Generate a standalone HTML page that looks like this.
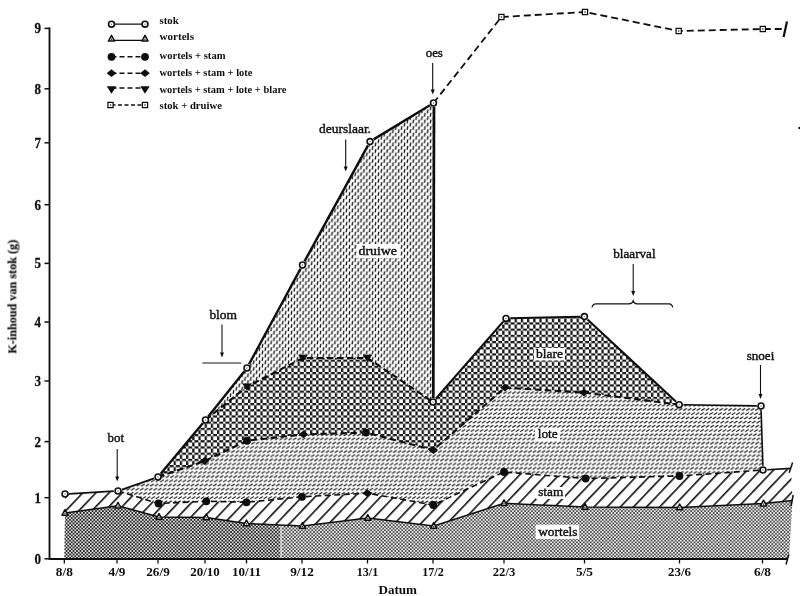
<!DOCTYPE html>
<html><head><meta charset="utf-8"><title>K-inhoud van stok</title>
<style>
html,body{margin:0;padding:0;background:#fff;}
body{width:800px;height:596px;overflow:hidden;font-family:"Liberation Serif",serif;}
svg{display:block;}
text{font-family:"Liberation Serif",serif;fill:#111;}
</style></head><body>
<svg width="800" height="596" viewBox="0 0 800 596">
<defs>
<pattern id="pw" width="3.46" height="3.46" patternUnits="userSpaceOnUse">
<rect width="3.46" height="3.46" fill="#dcdcdc"/><rect x="0" y="0" width="1.73" height="1.73" fill="#262626"/><rect x="1.73" y="1.73" width="1.73" height="1.73" fill="#262626"/>
</pattern>
<pattern id="pw2" width="3.46" height="3.46" patternUnits="userSpaceOnUse">
<rect width="3.46" height="3.46" fill="#ececec"/><rect x="0.05" y="0.05" width="1.63" height="1.63" fill="#3a3a3a"/><rect x="1.78" y="1.78" width="1.63" height="1.63" fill="#3a3a3a"/>
</pattern>
<pattern id="ps" width="9.5" height="9.5" patternUnits="userSpaceOnUse" patternTransform="rotate(43.6)">
<rect width="9.5" height="9.5" fill="#fff"/><rect x="0" y="0" width="1.6" height="9.5" fill="#111"/>
</pattern>
<pattern id="pl" width="4.5" height="16.8" patternUnits="userSpaceOnUse">
<rect width="4.5" height="16.8" fill="#fff"/>
<path d="M-4.05,3.10 L-0.45,1.10 M0.45,3.10 L4.05,1.10 M4.95,3.10 L8.55,1.10 M-5.17,7.30 L-1.57,5.30 M-0.68,7.30 L2.92,5.30 M3.83,7.30 L7.42,5.30 M-6.30,11.50 L-2.70,9.50 M-1.80,11.50 L1.80,9.50 M2.70,11.50 L6.30,9.50 M-2.92,15.70 L0.68,13.70 M1.57,15.70 L5.17,13.70 M6.08,15.70 L9.68,13.70" stroke="#161616" stroke-width="1.12" fill="none"/>
</pattern>
<pattern id="pb" width="6.2" height="6.2" patternUnits="userSpaceOnUse">
<rect width="6.2" height="6.2" fill="#fff"/>
<path d="M2.25,1.15 L6.25,1.15 M1.15,2.25 L1.15,6.25 M2.25,7.35 L6.25,7.35 M7.35,2.25 L7.35,6.25 M2.25,-5.05 L6.25,-5.05 M-5.05,2.25 L-5.05,6.25" stroke="#151515" stroke-width="2.3" fill="none"/>
</pattern>
<pattern id="pd" width="5.8" height="6.6" patternUnits="userSpaceOnUse">
<rect width="5.8" height="6.6" fill="#fff"/>
<path d="M1.2,4.5 L1.7,0.7 M4.1,7.8 L4.6,4.0 M4.1,1.2 L4.6,-2.6" stroke="#141414" stroke-width="1.4" fill="none"/>
</pattern>
<filter id="bl" x="0" y="0" width="800" height="596" filterUnits="userSpaceOnUse"><feGaussianBlur stdDeviation="0.3"/></filter>
<filter id="bl2" x="0" y="0" width="800" height="596" filterUnits="userSpaceOnUse"><feGaussianBlur stdDeviation="0.45"/></filter>
</defs>
<rect width="800" height="596" fill="#fff"/>

<g>
<polygon points="205.5,420.0 247.0,368.0 302.5,265.0 370.0,141.6 433.5,103.0 433.0,402.0 433.0,402.0 367.5,358.0 303.0,358.0 247.0,386.6 205.5,420.0" fill="url(#pd)"/>
<polygon points="158.0,477.0 205.5,420.0 247.0,386.6 303.0,358.0 367.5,358.0 433.0,402.0 506.0,318.4 584.4,316.6 679.2,404.7 679.2,404.7 584.0,392.6 505.0,387.6 433.3,450.0 366.0,432.6 303.5,434.4 247.0,440.7 204.6,461.0 158.0,477.0" fill="url(#pb)" filter="url(#bl2)"/>
<polygon points="118.0,491.0 158.0,477.0 204.6,461.0 247.0,440.7 303.5,434.4 366.0,432.6 433.3,450.0 505.0,387.6 584.0,392.6 679.2,404.7 761.0,406.0 763.0,470.0 763.0,470.0 679.5,476.0 585.6,478.5 504.0,472.0 433.3,505.0 367.3,493.2 302.0,496.8 246.5,502.3 206.3,501.3 158.5,503.5 118.0,491.0" fill="url(#pl)"/>
<polygon points="65.0,494.0 118.0,491.0 158.5,503.5 206.3,501.3 246.5,502.3 302.0,496.8 367.3,493.2 433.3,505.0 504.0,472.0 585.6,478.5 679.5,476.0 763.0,470.0 791.0,468.4 792.5,500.4 763.5,503.6 679.7,507.4 585.0,507.0 504.0,503.3 433.7,526.0 367.8,518.0 302.4,526.0 246.5,523.4 206.3,517.4 159.0,517.0 118.0,505.7 65.0,513.0" fill="url(#ps)"/>
</g>
<polygon points="65.0,513.0 118.0,505.7 159.0,517.0 206.3,517.4 246.5,523.4 302.4,526.0 367.8,518.0 433.7,526.0 504.0,503.3 585.0,507.0 679.7,507.4 763.5,503.6 792.5,500.4 789.0,558.0 64.5,558.0" fill="url(#pw2)"/>
<polygon points="65.0,513.0 118.0,505.7 159.0,517.0 206.3,517.4 246.5,523.4 280.3,525.0 280.3,558.0 64.5,558.0" fill="url(#pw)"/>
<rect x="280.3" y="526" width="1.6" height="32" fill="#e4e4e4" opacity="0.8"/>
<g filter="url(#bl)">
<path d="M49.5,27.5 L49.5,559 L787,559" stroke="#111" stroke-width="1.8" fill="none"/>
<path d="M44.5,28.4 L49.5,28.4" stroke="#111" stroke-width="1.5"/>
<text x="41" y="33.3" font-size="14" font-weight="bold" text-anchor="end" stroke="#111" stroke-width="0.3" textLength="6.5" lengthAdjust="spacingAndGlyphs">9</text>
<path d="M44.5,88.8 L49.5,88.8" stroke="#111" stroke-width="1.5"/>
<text x="41" y="93.7" font-size="14" font-weight="bold" text-anchor="end" stroke="#111" stroke-width="0.3" textLength="6.5" lengthAdjust="spacingAndGlyphs">8</text>
<path d="M44.5,142.8 L49.5,142.8" stroke="#111" stroke-width="1.5"/>
<text x="41" y="147.70000000000002" font-size="14" font-weight="bold" text-anchor="end" stroke="#111" stroke-width="0.3" textLength="6.5" lengthAdjust="spacingAndGlyphs">7</text>
<path d="M44.5,204.7 L49.5,204.7" stroke="#111" stroke-width="1.5"/>
<text x="41" y="209.6" font-size="14" font-weight="bold" text-anchor="end" stroke="#111" stroke-width="0.3" textLength="6.5" lengthAdjust="spacingAndGlyphs">6</text>
<path d="M44.5,263.4 L49.5,263.4" stroke="#111" stroke-width="1.5"/>
<text x="41" y="268.29999999999995" font-size="14" font-weight="bold" text-anchor="end" stroke="#111" stroke-width="0.3" textLength="6.5" lengthAdjust="spacingAndGlyphs">5</text>
<path d="M44.5,322 L49.5,322" stroke="#111" stroke-width="1.5"/>
<text x="41" y="326.9" font-size="14" font-weight="bold" text-anchor="end" stroke="#111" stroke-width="0.3" textLength="6.5" lengthAdjust="spacingAndGlyphs">4</text>
<path d="M44.5,381 L49.5,381" stroke="#111" stroke-width="1.5"/>
<text x="41" y="385.9" font-size="14" font-weight="bold" text-anchor="end" stroke="#111" stroke-width="0.3" textLength="6.5" lengthAdjust="spacingAndGlyphs">3</text>
<path d="M44.5,441.6 L49.5,441.6" stroke="#111" stroke-width="1.5"/>
<text x="41" y="446.5" font-size="14" font-weight="bold" text-anchor="end" stroke="#111" stroke-width="0.3" textLength="6.5" lengthAdjust="spacingAndGlyphs">2</text>
<path d="M44.5,497.7 L49.5,497.7" stroke="#111" stroke-width="1.5"/>
<text x="41" y="502.59999999999997" font-size="14" font-weight="bold" text-anchor="end" stroke="#111" stroke-width="0.3" textLength="6.5" lengthAdjust="spacingAndGlyphs">1</text>
<path d="M44.5,558.8 L49.5,558.8" stroke="#111" stroke-width="1.5"/>
<text x="41" y="563.6999999999999" font-size="14" font-weight="bold" text-anchor="end" stroke="#111" stroke-width="0.3" textLength="6.5" lengthAdjust="spacingAndGlyphs">0</text>
<path d="M64.3,559 L64.3,563.5" stroke="#111" stroke-width="1.3"/>
<text x="64.3" y="576" font-size="12.5" font-weight="bold" text-anchor="middle" stroke="#111" stroke-width="0" textLength="17" lengthAdjust="spacingAndGlyphs">8/8</text>
<path d="M117,559 L117,563.5" stroke="#111" stroke-width="1.3"/>
<text x="117" y="576" font-size="12.5" font-weight="bold" text-anchor="middle" stroke="#111" stroke-width="0" textLength="17" lengthAdjust="spacingAndGlyphs">4/9</text>
<path d="M158,559 L158,563.5" stroke="#111" stroke-width="1.3"/>
<text x="158" y="576" font-size="12.5" font-weight="bold" text-anchor="middle" stroke="#111" stroke-width="0" textLength="23.5" lengthAdjust="spacingAndGlyphs">26/9</text>
<path d="M205,559 L205,563.5" stroke="#111" stroke-width="1.3"/>
<text x="205" y="576" font-size="12.5" font-weight="bold" text-anchor="middle" stroke="#111" stroke-width="0" textLength="29.5" lengthAdjust="spacingAndGlyphs">20/10</text>
<path d="M246.5,559 L246.5,563.5" stroke="#111" stroke-width="1.3"/>
<text x="246.5" y="576" font-size="12.5" font-weight="bold" text-anchor="middle" stroke="#111" stroke-width="0" textLength="29" lengthAdjust="spacingAndGlyphs">10/11</text>
<path d="M302,559 L302,563.5" stroke="#111" stroke-width="1.3"/>
<text x="302" y="576" font-size="12.5" font-weight="bold" text-anchor="middle" stroke="#111" stroke-width="0" textLength="23.5" lengthAdjust="spacingAndGlyphs">9/12</text>
<path d="M367.5,559 L367.5,563.5" stroke="#111" stroke-width="1.3"/>
<text x="367.5" y="576" font-size="12.5" font-weight="bold" text-anchor="middle" stroke="#111" stroke-width="0" textLength="21.5" lengthAdjust="spacingAndGlyphs">13/1</text>
<path d="M433,559 L433,563.5" stroke="#111" stroke-width="1.3"/>
<text x="433" y="576" font-size="12.5" font-weight="bold" text-anchor="middle" stroke="#111" stroke-width="0" textLength="21.5" lengthAdjust="spacingAndGlyphs">17/2</text>
<path d="M504,559 L504,563.5" stroke="#111" stroke-width="1.3"/>
<text x="504" y="576" font-size="12.5" font-weight="bold" text-anchor="middle" stroke="#111" stroke-width="0" textLength="22.5" lengthAdjust="spacingAndGlyphs">22/3</text>
<path d="M584.5,559 L584.5,563.5" stroke="#111" stroke-width="1.3"/>
<text x="584.5" y="576" font-size="12.5" font-weight="bold" text-anchor="middle" stroke="#111" stroke-width="0" textLength="17" lengthAdjust="spacingAndGlyphs">5/5</text>
<path d="M679.5,559 L679.5,563.5" stroke="#111" stroke-width="1.3"/>
<text x="679.5" y="576" font-size="12.5" font-weight="bold" text-anchor="middle" stroke="#111" stroke-width="0" textLength="23" lengthAdjust="spacingAndGlyphs">23/6</text>
<path d="M762.5,559 L762.5,563.5" stroke="#111" stroke-width="1.3"/>
<text x="762.5" y="576" font-size="12.5" font-weight="bold" text-anchor="middle" stroke="#111" stroke-width="0" textLength="17" lengthAdjust="spacingAndGlyphs">6/8</text>
<text x="378.5" y="593.5" font-size="13" font-weight="bold" text-anchor="start" stroke="#111" stroke-width="0" textLength="38.5" lengthAdjust="spacingAndGlyphs">Datum</text>
<text transform="translate(16.4,353.7) rotate(-90)" font-size="13" font-weight="bold" stroke="#111" stroke-width="0.15" textLength="114" lengthAdjust="spacingAndGlyphs">K-inhoud van stok (g)</text>
<circle cx="799.6" cy="128" r="1.3" fill="#111"/>
<path d="M788.8,554.5 L786,564.5" stroke="#111" stroke-width="1.5"/>
<path d="M792.6,462.5 L789.2,472.7" stroke="#111" stroke-width="1.5"/>
<path d="M793.2,495 L791,506" stroke="#111" stroke-width="1.5"/>
<path d="M787,21.4 L783.6,37" stroke="#111" stroke-width="2.2"/>
<polyline points="65.0,513.0 118.0,505.7 159.0,517.0 206.3,517.4 246.5,523.4 302.4,526.0 367.8,518.0 433.7,526.0 504.0,503.3 585.0,507.0 679.7,507.4 763.5,503.6 792.5,500.4" fill="none" stroke="#111" stroke-width="1.5"/>
<polyline points="118.0,491.0 158.5,503.5 206.3,501.3 246.5,502.3 302.0,496.8 367.3,493.2 433.3,505.0 504.0,472.0 585.6,478.5 679.5,476.0 763.0,470.0" fill="none" stroke="#111" stroke-width="1.6" stroke-dasharray="6,3.5"/>
<polyline points="158.0,477.0 204.6,461.0 247.0,440.7 303.5,434.4 366.0,432.6 433.3,450.0 505.0,387.6 584.0,392.6 679.2,404.7" fill="none" stroke="#111" stroke-width="2.1" stroke-dasharray="6.5,3.5"/>
<polyline points="205.5,420.0 247.0,386.6 303.0,358.0 367.5,358.0 433.0,402.0" fill="none" stroke="#111" stroke-width="2.1" stroke-dasharray="6.5,3.5"/>
<path d="M69.2,493.8 L113.8,491.2 M122.0,489.6 L154.0,478.4" fill="none" stroke="#111" stroke-width="1.7"/>
<path d="M160.7,473.8 L202.8,423.2 M208.1,416.7 L244.4,371.3 M249.0,364.3 L300.5,268.7 M304.5,261.3 L368.0,145.3 M373.6,139.4 L429.9,105.2" fill="none" stroke="#111" stroke-width="2.4"/>
<path d="M435.8,398.8 L503.2,321.6 M510.2,318.3 L580.2,316.7 M587.5,319.5 L676.1,401.8" fill="none" stroke="#111" stroke-width="2.1"/>
<path d="M683.4,404.8 L756.8,405.9 M761.1,410.2 L762.9,465.8 M767.2,469.8 L791.0,468.4" fill="none" stroke="#111" stroke-width="1.6"/>
<path d="M434,107 L433.3,398" stroke="#111" stroke-width="2.7"/>
<polyline points="433.5,103.0 501.4,17.0 585.0,12.0 678.7,31.0 762.8,29.0 785.0,29.0" fill="none" stroke="#111" stroke-width="1.8" stroke-dasharray="7,4"/>
<path d="M61.9,515.3 L68.1,515.3 L65,509.6 Z" fill="#eee" stroke="#111" stroke-width="1.5" stroke-linejoin="round"/><circle cx="65" cy="513.5" r="0.7" fill="#222"/>
<path d="M114.9,508.0 L121.1,508.0 L118,502.3 Z" fill="#eee" stroke="#111" stroke-width="1.5" stroke-linejoin="round"/><circle cx="118" cy="506.2" r="0.7" fill="#222"/>
<path d="M155.9,519.3 L162.1,519.3 L159,513.6 Z" fill="#eee" stroke="#111" stroke-width="1.5" stroke-linejoin="round"/><circle cx="159" cy="517.5" r="0.7" fill="#222"/>
<path d="M203.20000000000002,519.6999999999999 L209.4,519.6999999999999 L206.3,514.0 Z" fill="#eee" stroke="#111" stroke-width="1.5" stroke-linejoin="round"/><circle cx="206.3" cy="517.9" r="0.7" fill="#222"/>
<path d="M243.4,525.6999999999999 L249.6,525.6999999999999 L246.5,520.0 Z" fill="#eee" stroke="#111" stroke-width="1.5" stroke-linejoin="round"/><circle cx="246.5" cy="523.9" r="0.7" fill="#222"/>
<path d="M299.29999999999995,528.3 L305.5,528.3 L302.4,522.6 Z" fill="#eee" stroke="#111" stroke-width="1.5" stroke-linejoin="round"/><circle cx="302.4" cy="526.5" r="0.7" fill="#222"/>
<path d="M364.7,520.3 L370.90000000000003,520.3 L367.8,514.6 Z" fill="#eee" stroke="#111" stroke-width="1.5" stroke-linejoin="round"/><circle cx="367.8" cy="518.5" r="0.7" fill="#222"/>
<path d="M430.59999999999997,528.3 L436.8,528.3 L433.7,522.6 Z" fill="#eee" stroke="#111" stroke-width="1.5" stroke-linejoin="round"/><circle cx="433.7" cy="526.5" r="0.7" fill="#222"/>
<path d="M500.9,505.6 L507.1,505.6 L504,499.90000000000003 Z" fill="#eee" stroke="#111" stroke-width="1.5" stroke-linejoin="round"/><circle cx="504" cy="503.8" r="0.7" fill="#222"/>
<path d="M581.9,509.3 L588.1,509.3 L585,503.6 Z" fill="#eee" stroke="#111" stroke-width="1.5" stroke-linejoin="round"/><circle cx="585" cy="507.5" r="0.7" fill="#222"/>
<path d="M676.6,509.7 L682.8000000000001,509.7 L679.7,504.0 Z" fill="#eee" stroke="#111" stroke-width="1.5" stroke-linejoin="round"/><circle cx="679.7" cy="507.9" r="0.7" fill="#222"/>
<path d="M760.4,505.90000000000003 L766.6,505.90000000000003 L763.5,500.20000000000005 Z" fill="#eee" stroke="#111" stroke-width="1.5" stroke-linejoin="round"/><circle cx="763.5" cy="504.1" r="0.7" fill="#222"/>
<circle cx="158.5" cy="503.5" r="3.9" fill="#0a0a0a"/>
<circle cx="206.3" cy="501.3" r="3.9" fill="#0a0a0a"/>
<circle cx="246.5" cy="502.3" r="3.9" fill="#0a0a0a"/>
<circle cx="302" cy="496.8" r="3.9" fill="#0a0a0a"/>
<path d="M362.5,493.2 L367.3,489.3 L372.1,493.2 L367.3,497.09999999999997 Z" fill="#0a0a0a"/>
<circle cx="433.3" cy="505" r="3.9" fill="#0a0a0a"/>
<circle cx="504" cy="472" r="3.9" fill="#0a0a0a"/>
<circle cx="585.6" cy="478.5" r="3.9" fill="#0a0a0a"/>
<circle cx="679.5" cy="476" r="3.9" fill="#0a0a0a"/>
<path d="M199.79999999999998,461 L204.6,457.1 L209.4,461 L204.6,464.9 Z" fill="#0a0a0a"/>
<circle cx="247" cy="440.7" r="3.9" fill="#0a0a0a"/>
<path d="M298.7,434.4 L303.5,430.5 L308.3,434.4 L303.5,438.29999999999995 Z" fill="#0a0a0a"/>
<circle cx="366" cy="432.6" r="3.9" fill="#0a0a0a"/>
<path d="M428.5,450 L433.3,446.1 L438.1,450 L433.3,453.9 Z" fill="#0a0a0a"/>
<path d="M500.2,387.6 L505,383.70000000000005 L509.8,387.6 L505,391.5 Z" fill="#0a0a0a"/>
<path d="M579.2,392.6 L584,388.70000000000005 L588.8,392.6 L584,396.5 Z" fill="#0a0a0a"/>
<path d="M242.3,383.40000000000003 L251.7,383.40000000000003 L247,390.8 Z" fill="#0a0a0a"/>
<path d="M298.3,354.8 L307.7,354.8 L303,362.2 Z" fill="#0a0a0a"/>
<path d="M362.8,354.8 L372.2,354.8 L367.5,362.2 Z" fill="#0a0a0a"/>
<circle cx="65" cy="494" r="2.95" fill="#fff" stroke="#111" stroke-width="1.6"/><circle cx="65" cy="494" r="0.65" fill="#666"/>
<circle cx="118" cy="491" r="2.95" fill="#fff" stroke="#111" stroke-width="1.6"/><circle cx="118" cy="491" r="0.65" fill="#666"/>
<circle cx="158" cy="477" r="2.95" fill="#fff" stroke="#111" stroke-width="1.6"/><circle cx="158" cy="477" r="0.65" fill="#666"/>
<circle cx="205.5" cy="420" r="2.95" fill="#fff" stroke="#111" stroke-width="1.6"/><circle cx="205.5" cy="420" r="0.65" fill="#666"/>
<circle cx="247" cy="368" r="2.95" fill="#fff" stroke="#111" stroke-width="1.6"/><circle cx="247" cy="368" r="0.65" fill="#666"/>
<circle cx="302.5" cy="265" r="2.95" fill="#fff" stroke="#111" stroke-width="1.6"/><circle cx="302.5" cy="265" r="0.65" fill="#666"/>
<circle cx="370" cy="141.6" r="2.95" fill="#fff" stroke="#111" stroke-width="1.6"/><circle cx="370" cy="141.6" r="0.65" fill="#666"/>
<circle cx="433.5" cy="103" r="2.95" fill="#fff" stroke="#111" stroke-width="1.6"/><circle cx="433.5" cy="103" r="0.65" fill="#666"/>
<circle cx="433" cy="402" r="2.95" fill="#fff" stroke="#111" stroke-width="1.6"/><circle cx="433" cy="402" r="0.65" fill="#666"/>
<circle cx="506" cy="318.4" r="2.95" fill="#fff" stroke="#111" stroke-width="1.6"/><circle cx="506" cy="318.4" r="0.65" fill="#666"/>
<circle cx="584.4" cy="316.6" r="2.95" fill="#fff" stroke="#111" stroke-width="1.6"/><circle cx="584.4" cy="316.6" r="0.65" fill="#666"/>
<circle cx="679.2" cy="404.7" r="2.95" fill="#fff" stroke="#111" stroke-width="1.6"/><circle cx="679.2" cy="404.7" r="0.65" fill="#666"/>
<circle cx="761" cy="406" r="2.95" fill="#fff" stroke="#111" stroke-width="1.6"/><circle cx="761" cy="406" r="0.65" fill="#666"/>
<circle cx="763" cy="470" r="2.95" fill="#fff" stroke="#111" stroke-width="1.6"/><circle cx="763" cy="470" r="0.65" fill="#666"/>
<rect x="498.79999999999995" y="14.4" width="5.2" height="5.2" fill="#fff" stroke="#111" stroke-width="1.25"/><circle cx="501.4" cy="17" r="0.8" fill="#222"/>
<rect x="582.4" y="9.4" width="5.2" height="5.2" fill="#fff" stroke="#111" stroke-width="1.25"/><circle cx="585" cy="12" r="0.8" fill="#222"/>
<rect x="676.1" y="28.4" width="5.2" height="5.2" fill="#fff" stroke="#111" stroke-width="1.25"/><circle cx="678.7" cy="31" r="0.8" fill="#222"/>
<rect x="760.1999999999999" y="26.4" width="5.2" height="5.2" fill="#fff" stroke="#111" stroke-width="1.25"/><circle cx="762.8" cy="29" r="0.8" fill="#222"/>
<path d="M111.5,24.2 L145,24.2" stroke="#111" stroke-width="1.3"/><circle cx="111.5" cy="24.2" r="2.95" fill="#fff" stroke="#111" stroke-width="1.6"/><circle cx="111.5" cy="24.2" r="0.65" fill="#666"/><circle cx="145" cy="24.2" r="2.95" fill="#fff" stroke="#111" stroke-width="1.6"/><circle cx="145" cy="24.2" r="0.65" fill="#666"/>
<path d="M111.5,40.3 L145,40.3" stroke="#111" stroke-width="1.3"/><path d="M108.4,41.099999999999994 L114.6,41.099999999999994 L111.5,35.4 Z" fill="#eee" stroke="#111" stroke-width="1.5" stroke-linejoin="round"/><circle cx="111.5" cy="39.3" r="0.7" fill="#222"/><path d="M141.9,41.099999999999994 L148.1,41.099999999999994 L145,35.4 Z" fill="#eee" stroke="#111" stroke-width="1.5" stroke-linejoin="round"/><circle cx="145" cy="39.3" r="0.7" fill="#222"/>
<path d="M111.5,56.8 L145,56.8" stroke="#111" stroke-width="1.5" stroke-dasharray="5,3"/><circle cx="111.5" cy="56.8" r="3.9" fill="#0a0a0a"/><circle cx="145" cy="56.8" r="3.9" fill="#0a0a0a"/>
<path d="M111.5,73.2 L145,73.2" stroke="#111" stroke-width="1.5" stroke-dasharray="5,3"/><path d="M106.7,73.2 L111.5,69.3 L116.3,73.2 L111.5,77.10000000000001 Z" fill="#0a0a0a"/><path d="M140.2,73.2 L145,69.3 L149.8,73.2 L145,77.10000000000001 Z" fill="#0a0a0a"/>
<path d="M111.5,88.0 L145,88.0" stroke="#111" stroke-width="1.5" stroke-dasharray="5,3"/><path d="M106.8,86.3 L116.2,86.3 L111.5,93.7 Z" fill="#0a0a0a"/><path d="M140.3,86.3 L149.7,86.3 L145,93.7 Z" fill="#0a0a0a"/>
<path d="M111.5,105 L145,105" stroke="#111" stroke-width="1.3" stroke-dasharray="4,2.5"/><rect x="107.9" y="102.4" width="5.2" height="5.2" fill="#fff" stroke="#111" stroke-width="1.25"/><circle cx="110.5" cy="105" r="0.8" fill="#222"/><rect x="142.4" y="102.4" width="5.2" height="5.2" fill="#fff" stroke="#111" stroke-width="1.25"/><circle cx="145" cy="105" r="0.8" fill="#222"/>
<text x="159.5" y="23.8" font-size="10.8" font-weight="bold" text-anchor="start" stroke="#111" stroke-width="0" textLength="19.3" lengthAdjust="spacingAndGlyphs">stok</text>
<text x="159.5" y="40" font-size="10.8" font-weight="bold" text-anchor="start" stroke="#111" stroke-width="0" textLength="34.5" lengthAdjust="spacingAndGlyphs">wortels</text>
<text x="159.5" y="58.8" font-size="10.8" font-weight="bold" text-anchor="start" stroke="#111" stroke-width="0" textLength="66" lengthAdjust="spacingAndGlyphs">wortels + stam</text>
<text x="159.5" y="75.5" font-size="10.8" font-weight="bold" text-anchor="start" stroke="#111" stroke-width="0" textLength="93" lengthAdjust="spacingAndGlyphs">wortels + stam + lote</text>
<text x="159.5" y="92.5" font-size="10.8" font-weight="bold" text-anchor="start" stroke="#111" stroke-width="0" textLength="127" lengthAdjust="spacingAndGlyphs">wortels + stam + lote + blare</text>
<text x="159.5" y="109.2" font-size="10.8" font-weight="bold" text-anchor="start" stroke="#111" stroke-width="0" textLength="62.5" lengthAdjust="spacingAndGlyphs">stok + druiwe</text>
<text x="107.5" y="441.6" font-size="12.5" font-weight="normal" text-anchor="start" stroke="#111" stroke-width="0.4" textLength="16.5" lengthAdjust="spacingAndGlyphs">bot</text>
<path d="M117.2,449 L117.2,478.5" stroke="#111" stroke-width="1.1" fill="none"/><path d="M115.2,476.5 L119.2,476.5 L117.2,481.5 Z" fill="#111"/>
<text x="209.4" y="318.9" font-size="12.5" font-weight="normal" text-anchor="start" stroke="#111" stroke-width="0.4" textLength="27.6" lengthAdjust="spacingAndGlyphs">blom</text>
<path d="M222,324.5 L222,354.5" stroke="#111" stroke-width="1.1" fill="none"/><path d="M220,352.5 L224,352.5 L222,357.5 Z" fill="#111"/>
<path d="M202.3,363 L241.2,363" stroke="#111" stroke-width="1.1"/>
<text x="319" y="133.3" font-size="12.5" font-weight="normal" text-anchor="start" stroke="#111" stroke-width="0.4" textLength="52" lengthAdjust="spacingAndGlyphs">deurslaar.</text>
<path d="M345.7,139.6 L345.7,168.5" stroke="#111" stroke-width="1.1" fill="none"/><path d="M343.7,166.5 L347.7,166.5 L345.7,171.5 Z" fill="#111"/>
<text x="425.7" y="57.4" font-size="12.5" font-weight="normal" text-anchor="start" stroke="#111" stroke-width="0.4" textLength="17.2" lengthAdjust="spacingAndGlyphs">oes</text>
<path d="M432.7,63 L432.7,91.5" stroke="#111" stroke-width="1.1" fill="none"/><path d="M430.7,89.5 L434.7,89.5 L432.7,94.5 Z" fill="#111"/>
<text x="613.3" y="257.7" font-size="12.5" font-weight="normal" text-anchor="start" stroke="#111" stroke-width="0.4" textLength="42.3" lengthAdjust="spacingAndGlyphs">blaarval</text>
<path d="M633.2,264 L633.2,293" stroke="#111" stroke-width="1.1" fill="none"/><path d="M631.2,291 L635.2,291 L633.2,296 Z" fill="#111"/>
<path d="M592,307.5 Q592.5,304 596,303.8 L629,303.8 Q632.5,303.6 633.2,301 Q633.9,303.6 637,303.8 L669,303.8 Q672.3,304 672.7,307.5" stroke="#111" stroke-width="1.2" fill="none"/>
<text x="746.7" y="359.7" font-size="12.5" font-weight="normal" text-anchor="start" stroke="#111" stroke-width="0.4" textLength="27.6" lengthAdjust="spacingAndGlyphs">snoei</text>
<path d="M760.5,365 L760.5,396" stroke="#111" stroke-width="1.1" fill="none"/><path d="M758.5,394 L762.5,394 L760.5,399 Z" fill="#111"/>
<rect x="357" y="244" width="43" height="14" fill="#fff"/><text x="358.5" y="255" font-size="13" font-weight="normal" text-anchor="start" stroke="#111" stroke-width="0.4" textLength="38.5" lengthAdjust="spacingAndGlyphs">druiwe</text>
<rect x="534" y="348" width="31" height="12.5" fill="#fff"/><text x="536" y="358.4" font-size="13" font-weight="normal" text-anchor="start" stroke="#111" stroke-width="0.4" textLength="27" lengthAdjust="spacingAndGlyphs">blare</text>
<rect x="535" y="428" width="25" height="13" fill="#fff"/><text x="537.7" y="438.1" font-size="13" font-weight="normal" text-anchor="start" stroke="#111" stroke-width="0.4" textLength="20" lengthAdjust="spacingAndGlyphs">lote</text>
<rect x="536" y="487" width="29" height="12" fill="#fff"/><text x="538.2" y="496.4" font-size="13" font-weight="normal" text-anchor="start" stroke="#111" stroke-width="0.4" textLength="25" lengthAdjust="spacingAndGlyphs">stam</text>
<rect x="535.6" y="524.7" width="43.5" height="14.3" fill="#fff"/><text x="538.2" y="535.6" font-size="13" font-weight="normal" text-anchor="start" stroke="#111" stroke-width="0.4" textLength="39.3" lengthAdjust="spacingAndGlyphs">wortels</text>
</g>
</svg></body></html>
